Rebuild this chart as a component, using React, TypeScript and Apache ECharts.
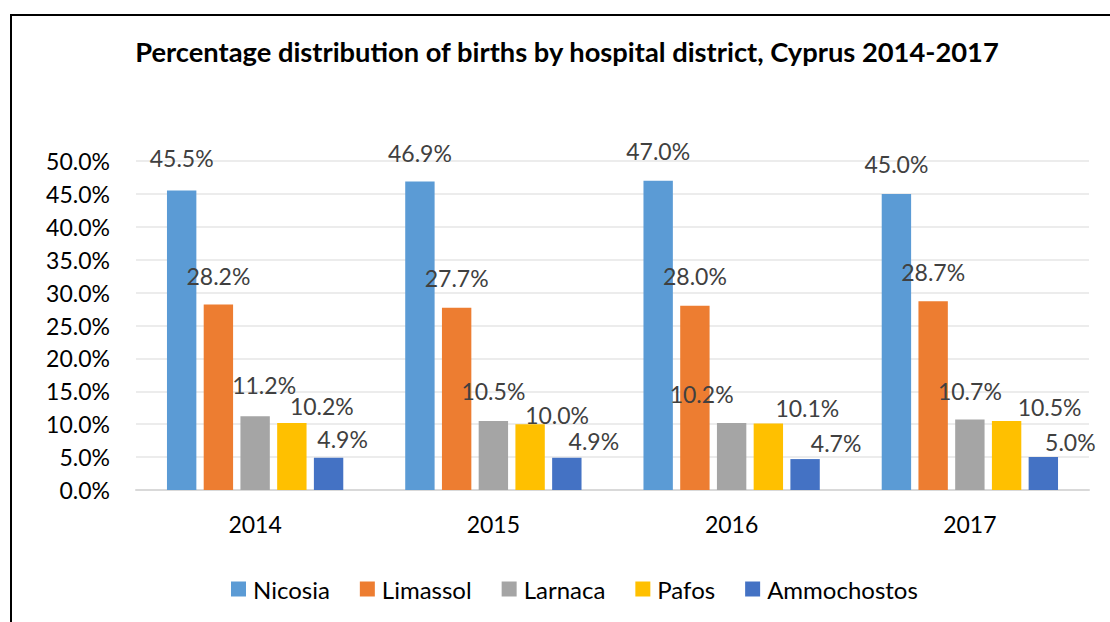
import React, { useEffect, useRef } from "react";
import * as echarts from "echarts";

const years = ["2014", "2015", "2016", "2017"];
const nicosia = [45.5, 46.9, 47.0, 45.0];
const limassol = [28.2, 27.7, 28.0, 28.7];
const larnaca = [11.2, 10.5, 10.2, 10.7];
const pafos = [10.2, 10.0, 10.1, 10.5];
const ammochostos = [4.9, 4.9, 4.7, 5.0];

const seriesNames = ["Nicosia", "Limassol", "Larnaca", "Pafos", "Ammochostos"];
const seriesValues = [nicosia, limassol, larnaca, pafos, ammochostos];
const seriesColors = ["#5B9BD5", "#ED7D31", "#A5A5A5", "#FFC000", "#4472C4"];

// manual data-label nudges [dx, dy] in px (as placed in the original chart)
const labelNudges: number[][][] = [
  [[0, -3], [0, 1], [0, 0], [0, 0]],
  [[0, 1], [0, 0], [0, 0], [0, 0]],
  [[9, -2], [0, 0], [-30, 1], [0, 1]],
  [[30, 13], [27, 20], [39, 14], [43, 16]],
  [[14, 11], [27, 13], [31, 13], [27, 14]],
];

const FONT = "Lato";

export default function App() {
  const ref = useRef<HTMLDivElement>(null);
  useEffect(() => {
    document.body.style.margin = "0";
    const chart = echarts.init(ref.current!, undefined, { renderer: "svg" });
    chart.setOption({
      animation: false,
      backgroundColor: "#fff",
      textStyle: { fontFamily: FONT },
      title: {
        text: "Percentage distribution of births by hospital district, Cyprus 2014-2017",
        left: 562,
        textAlign: "center",
        top: 33,
        textStyle: { fontFamily: FONT, fontWeight: "bold", fontSize: 27.3, color: "#000" },
      },
      graphic: [
        {
          type: "rect",
          shape: { x: 11, y: 15, width: 1130, height: 700 },
          style: { fill: "none", stroke: "#000", lineWidth: 2 },
          silent: true,
        },
      ],
      grid: { left: 136, right: 21, top: 161, bottom: 132, containLabel: false },
      legend: {
        left: 226,
        top: 572,
        itemWidth: 15,
        itemHeight: 15,
        itemGap: 30,
        icon: "rect",
        textStyle: { fontFamily: FONT, fontSize: 24, color: "#000", padding: [0, 0, 0, 2] },
        data: seriesNames,
      },
      xAxis: {
        type: "category",
        data: years,
        axisTick: { show: false },
        axisLine: { lineStyle: { color: "#d9d9d9", width: 2 } },
        axisLabel: { fontFamily: FONT, fontSize: 23, color: "#000", margin: 22 },
      },
      yAxis: {
        type: "value",
        min: 0,
        max: 50,
        interval: 5,
        axisLine: { show: false },
        axisTick: { show: false },
        splitLine: { lineStyle: { color: "#e6e6e6", width: 1.5 } },
        axisLabel: {
          fontFamily: FONT,
          fontSize: 23,
          color: "#000",
          margin: 26,
          formatter: (v: number) => v.toFixed(1) + "%",
        },
      },
      series: seriesNames.map((name, si) => ({
        name,
        type: "bar",
        data: seriesValues[si].map((v, i) => ({
          value: v,
          label: { offset: labelNudges[si][i] },
        })),
        barGap: "25%",
        barCategoryGap: "26%",
        itemStyle: { color: seriesColors[si] },
        label: {
          show: true,
          position: "top",
          distance: 18,
          fontFamily: FONT,
          fontSize: 23,
          color: "#404040",
          formatter: (p: any) => Number(p.value).toFixed(1) + "%",
        },
      })),
    });
    return () => chart.dispose();
  }, []);
  return <div ref={ref} style={{ width: 1110, height: 622 }} />;
}
